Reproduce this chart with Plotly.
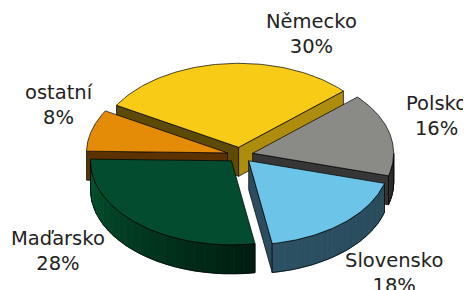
import numpy as np
import plotly.graph_objects as go

# ---- data ----
CATEGORIES = ["Německo", "Polsko", "Slovensko", "Maďarsko", "ostatní"]
SHARES = [30, 16, 18, 28, 8]

# ---- style ----
TOP_COLORS = ["#F8CB17", "#8A8A86", "#6CC4E8", "#034C2F", "#E48B08"]
CCW_FACE = ["#5D4A05", "#3A3A3A", "#2C4D5D", "#02331F", "#5C3300"]
CW_FACE = ["#AD8C0E", "#363636", "#2C4D5D", "#02331F", "#5C3300"]
CURVE_A = ["#6B5508", "#333333", "#2B5163", "#04552F", "#5C3300"]  # at left end
CURVE_B = ["#6B5508", "#2A2A2A", "#2A4C5C", "#001C10", "#5C3300"]  # at right end
LABEL_POS = [(311, 34), (436, 116), (394, 273), (58, 251), (59, 105)]

W, H = 471, 290
BODY_MARGIN = 8  # default page margin of the html body
CX, CY, RX, RY, DEPTH, EXPLODE = 240, 155, 141, 84, 29, 13
START = 150.0
SQ = RY / RX


def hex2rgb(h):
    h = h.lstrip("#")
    return np.array([int(h[i:i + 2], 16) for i in (0, 2, 4)], dtype=float)


def mix(c1, c2, f):
    c = hex2rgb(c1) * (1 - f) + hex2rgb(c2) * f
    return "rgb(%d,%d,%d)" % tuple(c.round())


fig = go.Figure()


def poly(xs, ys, color):
    fig.add_trace(go.Scatter(x=list(xs) + [xs[0]], y=list(ys) + [ys[0]], mode="lines",
                             fill="toself", fillcolor=color,
                             line=dict(color="#000000", width=0.7),
                             hoverinfo="skip", showlegend=False))


slices = []
cum = 0.0
for i, s in enumerate(SHARES):
    a0 = START - cum * 3.6
    a1 = a0 - s * 3.6
    cum += s
    mid = (a0 + a1) / 2
    slices.append((i, a0, a1, mid))

order = sorted(slices, key=lambda t: -np.sin(np.radians(t[3])))

for i, a0, a1, mid in order:
    m = np.radians(mid)
    ox = EXPLODE * np.cos(m)
    oy = -EXPLODE * np.sin(m) * SQ
    ax, ay = CX + ox, CY + oy

    def px(t):
        return ax + RX * np.cos(np.radians(t))

    def py(t, z=0.0):
        return ay - RY * np.sin(np.radians(t)) + z

    # radial faces (only those facing the viewer)
    for a, normal, col in ((a0, a0 + 90, CCW_FACE[i]), (a1, a1 - 90, CW_FACE[i])):
        if np.sin(np.radians(normal)) < 0:
            poly([ax, px(a), px(a), ax], [ay, py(a), py(a, DEPTH), ay + DEPTH], col)

    # curved outer face (front half only)
    for off in (-360, 0, 360):
        lo = max(a1, -180 + off)
        hi = min(a0, 0 + off)
        if hi > lo:
            n = 24
            edges = np.linspace(lo, hi, n + 1)
            for k in range(n):
                ts = np.linspace(edges[k], edges[k + 1], 4)
                f = (k + 0.5) / n
                col = mix(CURVE_A[i], CURVE_B[i], f)
                xs = [px(t) for t in ts] + [px(t) for t in ts[::-1]]
                ys = [py(t) for t in ts] + [py(t, DEPTH) for t in ts[::-1]]
                fig.add_trace(go.Scatter(x=xs + [xs[0]], y=ys + [ys[0]], mode="lines",
                                         fill="toself", fillcolor=col,
                                         line=dict(color=col, width=0.8),
                                         hoverinfo="skip", showlegend=False))
            ts = np.linspace(lo, hi, 60)
            fig.add_trace(go.Scatter(x=[px(t) for t in ts] + [None] + [px(t) for t in ts]
                                     + [None, px(lo), px(lo), None, px(hi), px(hi)],
                                     y=[py(t) for t in ts] + [None] + [py(t, DEPTH) for t in ts]
                                     + [None, py(lo), py(lo, DEPTH), None, py(hi), py(hi, DEPTH)],
                                     mode="lines", line=dict(color="#000000", width=0.7),
                                     hoverinfo="skip", showlegend=False))

    # top face
    ts = np.linspace(a0, a1, 80)
    poly([ax] + [px(t) for t in ts], [ay] + [py(t) for t in ts], TOP_COLORS[i])

for i, (name, s) in enumerate(zip(CATEGORIES, SHARES)):
    x, y = LABEL_POS[i]
    fig.add_annotation(x=x, y=y, xref="x", yref="y", text=f"{name}<br>{s}%",
                       showarrow=False, xanchor="center", yanchor="middle",
                       font=dict(family="DejaVu Sans", size=19.5, color="#222222"))

fig.update_layout(width=W - BODY_MARGIN, height=H - BODY_MARGIN,
                  margin=dict(l=0, r=0, t=0, b=0),
                  paper_bgcolor="white", plot_bgcolor="white",
                  xaxis=dict(range=[BODY_MARGIN, W], visible=False, fixedrange=True),
                  yaxis=dict(range=[H, BODY_MARGIN], visible=False, fixedrange=True),
                  showlegend=False)

fig.write_html("out.html")
